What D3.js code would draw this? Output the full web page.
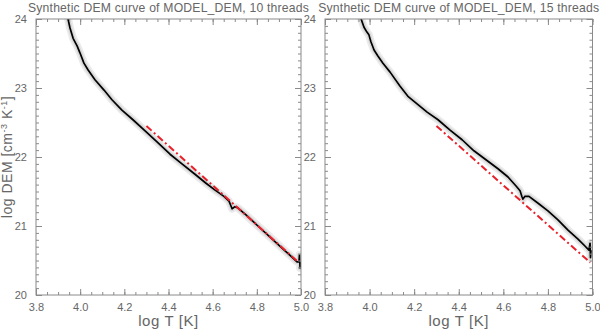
<!DOCTYPE html>
<meta charset="utf-8">
<style>
body { margin: 0; background: #fff; }
text { font-family: "Liberation Sans", Arial, sans-serif; fill: #666; }
.frame { fill: none; stroke: #8a8a8a; stroke-width: 1; }
.tick line { stroke: #8a8a8a; }
</style>
<svg width="600" height="329"></svg>
<script src="https://d3js.org/d3.v7.min.js"></script>
<script>

// ---- data ----
var titles = ["Synthetic DEM curve of MODEL_DEM, 10 threads",
              "Synthetic DEM curve of MODEL_DEM, 15 threads"];

var logT10 = [3.936, 3.945, 3.954, 3.968, 3.986, 3.999, 4.017, 4.036, 4.067, 4.108, 4.144, 4.189, 4.239,
              4.294, 4.348, 4.407, 4.461, 4.520, 4.570, 4.611, 4.651, 4.674, 4.683, 4.688, 4.701, 4.715,
              4.751, 4.805, 4.860, 4.914, 4.959, 4.982, 4.991, 4.993, 4.996, 4.998];
var dem10  = [24.07, 24.00, 23.87, 23.72, 23.61, 23.51, 23.36, 23.26, 23.12, 22.97, 22.83, 22.68, 22.54,
              22.38, 22.22, 22.04, 21.90, 21.75, 21.62, 21.52, 21.43, 21.36, 21.29, 21.25, 21.28, 21.26,
              21.16, 21.00, 20.84, 20.68, 20.55, 20.48, 20.48, 20.58, 20.39, 20.48];

var logT15 = [3.953, 3.962, 3.975, 3.988, 3.997, 4.006, 4.020, 4.038, 4.060, 4.092, 4.136, 4.172, 4.213,
              4.258, 4.307, 4.361, 4.415, 4.468, 4.522, 4.576, 4.621, 4.657, 4.675, 4.684, 4.688, 4.697,
              4.715, 4.756, 4.800, 4.845, 4.890, 4.935, 4.966, 4.984, 4.989, 4.991, 4.993];
var dem15  = [24.07, 24.00, 23.88, 23.81, 23.77, 23.67, 23.55, 23.46, 23.36, 23.23, 23.03, 22.88, 22.77,
              22.65, 22.54, 22.39, 22.25, 22.09, 21.96, 21.83, 21.71, 21.58, 21.51, 21.42, 21.39, 21.43,
              21.43, 21.33, 21.22, 21.09, 20.94, 20.81, 20.71, 20.65, 20.75, 20.54, 20.65];

// red dash-dot reference line (same in both panels)
var refT   = [4.30, 4.99];
var refDEM = [22.45, 20.47];

var xMajor = [3.8, 4.0, 4.2, 4.4, 4.6, 4.8, 5.0];
var yMajor = [20, 21, 22, 23, 24];

var panels = [
  {title: titles[0], t: logT10, d: dem10, left: 36,  right: 301, ylab: true},
  {title: titles[1], t: logT15, d: dem15, left: 325, right: 592.5, ylab: false}
];

var svg = d3.select("svg");
var plotTop = 19, plotBottom = 295;

// minor tick positions
var xMinor = d3.range(3.8, 5.0001, 0.05).map(function(v) { return +v.toFixed(2); });
var yMinor = d3.range(20, 24.0001, 0.1).map(function(v) { return +v.toFixed(1); });

panels.forEach(function(p, i) {
  var x = d3.scaleLinear().domain([3.8, 5.0]).range([p.left, p.right]);
  var y = d3.scaleLinear().domain([20, 24]).range([plotBottom, plotTop]);
  var g = svg.append("g");

  g.append("clipPath").attr("id", "clip" + i)
    .append("rect").attr("x", p.left).attr("y", plotTop)
    .attr("width", p.right - p.left).attr("height", plotBottom - plotTop);

  var pts = p.t.map(function(t, k) { return [t, p.d[k]]; });
  var line = d3.line().x(function(d) { return x(d[0]); }).y(function(d) { return y(d[1]); });

  var plot = g.append("g").attr("clip-path", "url(#clip" + i + ")");
  // grey spread of individual realisations
  plot.append("path").attr("d", line(pts)).attr("fill", "none")
    .attr("stroke", "#ebebeb").attr("stroke-width", 8).attr("stroke-linejoin", "round");
  plot.append("path").attr("d", line(pts)).attr("fill", "none")
    .attr("stroke", "#d6d6d6").attr("stroke-width", 4.5).attr("stroke-linejoin", "round");
  plot.append("path").attr("d", line(pts)).attr("fill", "none")
    .attr("stroke", "#000").attr("stroke-width", 1.7).attr("stroke-linejoin", "round");

  var ref = refT.map(function(t, k) { return [t, refDEM[k]]; });
  plot.append("path").attr("d", line(ref)).attr("fill", "none")
    .attr("stroke", "#e8202a").attr("stroke-width", 2)
    .attr("stroke-dasharray", "7,3,2,3");

  // axes, IDL style: ticks inward on all four sides
  var axB = d3.axisBottom(x).tickValues(xMajor).tickSize(-6).tickPadding(8).tickFormat(d3.format(".1f"));
  var axT = d3.axisTop(x).tickValues(xMajor).tickSize(-6).tickFormat("");
  var axL = d3.axisLeft(y).tickValues(yMajor).tickSize(-6).tickPadding(9).tickFormat(d3.format("d"));
  var axR = d3.axisRight(y).tickValues(yMajor).tickSize(-6).tickFormat("");
  var mB = d3.axisBottom(x).tickValues(xMinor).tickSize(-3).tickFormat("");
  var mT = d3.axisTop(x).tickValues(xMinor).tickSize(-3).tickFormat("");
  var mL = d3.axisLeft(y).tickValues(yMinor).tickSize(-3).tickFormat("");
  var mR = d3.axisRight(y).tickValues(yMinor).tickSize(-3).tickFormat("");

  [[axB, mB, "translate(0," + plotBottom + ")"], [axT, mT, "translate(0," + plotTop + ")"],
   [axL, mL, "translate(" + p.left + ",0)"], [axR, mR, "translate(" + p.right + ",0)"]].forEach(function(a) {
    g.append("g").attr("transform", a[2]).call(a[1]).call(function(s) { s.select(".domain").remove(); });
    g.append("g").attr("transform", a[2]).call(a[0]).call(function(s) { s.select(".domain").remove(); });
  });
  g.selectAll(".tick text").attr("font-size", 11).attr("fill", "#888")
    .attr("font-family", "Liberation Sans, sans-serif");

  g.append("rect").attr("class", "frame").attr("x", p.left).attr("y", plotTop)
    .attr("width", p.right - p.left).attr("height", plotBottom - plotTop);

  g.append("text").attr("x", (p.left + p.right) / 2).attr("y", 12)
    .attr("text-anchor", "middle").attr("font-size", 12.2).attr("fill", "#666")
    .style("letter-spacing", "0.2px").text(p.title);

  g.append("text").attr("x", (p.left + p.right) / 2).attr("y", 326)
    .attr("text-anchor", "middle").attr("font-size", 15).attr("fill", "#999")
    .style("letter-spacing", "0.6px").text("log T [K]");

  if (p.ylab) {
    var yl = g.append("text").attr("transform", "translate(12," + (plotTop + plotBottom) / 2 + ") rotate(-90)")
      .attr("text-anchor", "middle").attr("font-size", 14).attr("fill", "#999")
      .style("letter-spacing", "0.5px");
    yl.append("tspan").text("log DEM [cm");
    yl.append("tspan").attr("dy", -5).attr("font-size", 9).text("-3");
    yl.append("tspan").attr("dy", 5).text(" K");
    yl.append("tspan").attr("dy", -5).attr("font-size", 9).text("-1");
    yl.append("tspan").attr("dy", 5).text("]");
  }
});

</script>
